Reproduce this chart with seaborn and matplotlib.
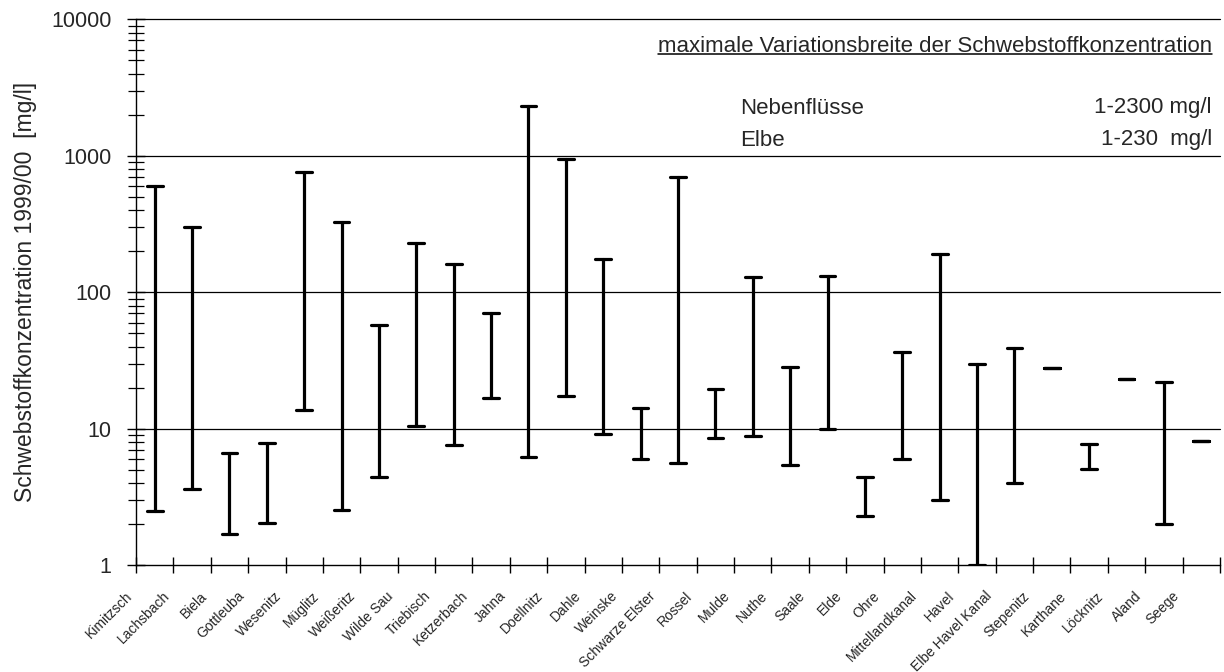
import numpy as np
import pandas as pd
import matplotlib
matplotlib.use("Agg")
import matplotlib.pyplot as plt
import matplotlib.transforms as mtransforms
from matplotlib.ticker import FixedLocator, NullFormatter, LogLocator
import seaborn as sns

# Rivers (tributaries of the Elbe) and the observed range of suspended matter
rivers = [
    "Kimitzsch", "Lachsbach", "Biela", "Gottleuba", "Wesenitz", "Müglitz",
    "Weißeritz", "Wilde Sau", "Triebisch", "Ketzerbach", "Jahna", "Doellnitz",
    "Dahle", "Weinske", "Schwarze Elster", "Rossel", "Mulde", "Nuthe", "Saale",
    "Elde", "Ohre", "Mittellandkanal", "Havel", "Elbe Havel Kanal",
    "Stepenitz", "Karthane", "Löcknitz", "Aland", "Seege",
]
conc_min = [2.5, 3.6, 1.7, 2.05, 13.7, 2.55, 4.4, 10.5, 7.6, 16.8, 6.2, 17.4,
            9.2, 6.0, 5.65, 8.6, 8.8, 5.4, 10.0, 2.3, 6.0, 3.0, 1.0, 4.0,
            27.7, 5.1, 23.0, 2.0, 8.2]
conc_max = [600, 300, 6.6, 7.9, 760, 325, 58, 230, 162, 70, 2300, 950,
            175, 14.1, 700, 19.5, 130, 28.5, 132, 4.4, 36.5, 190, 30, 39,
            27.7, 7.7, 23.0, 22, 8.2]

y_ticks = [1, 10, 100, 1000, 10000]
y_ticklabels = ["1", "10", "100", "1000", "10000"]

df = pd.DataFrame({
    "Fluss": rivers + rivers,
    "Konzentration": conc_min + conc_max,
})

sns.set_style("white")
plt.rcParams["font.family"] = ["Liberation Sans", "DejaVu Sans"]

fig = plt.figure(figsize=(12.24, 6.72), dpi=100)
ax = fig.add_axes([136 / 1224, 1 - 565.3 / 672, (1220 - 136) / 1224, (565.3 - 19.3) / 672])
ax.set_yscale("log")

sns.pointplot(
    data=df, x="Fluss", y="Konzentration", order=rivers,
    estimator="median", errorbar=("pi", 100), capsize=0.42,
    marker="", linestyle="none", color="black",
    err_kws={"linewidth": 2.3, "solid_capstyle": "round", "color": "black"},
    ax=ax,
)

n = len(rivers)
ax.set_xlim(-0.5, n - 0.5)
ax.set_ylim(1, 10000)

# horizontal grid at the decades
for v in y_ticks[1:]:
    ax.axhline(v, color="black", linewidth=0.9, zorder=0.5, clip_on=False)

for side in ("top", "right"):
    ax.spines[side].set_visible(False)
for side in ("left", "bottom"):
    ax.spines[side].set_color("black")
    ax.spines[side].set_linewidth(1.0)

# y axis: decades with crossing minor ticks
ax.yaxis.set_major_locator(FixedLocator(y_ticks))
ax.set_yticklabels(y_ticklabels)
ax.yaxis.set_minor_locator(LogLocator(base=10, subs=np.arange(2, 10)))
ax.yaxis.set_minor_formatter(NullFormatter())
ax.tick_params(axis="y", which="major", direction="inout", length=13, width=1,
               color="black", labelsize=15.5, pad=11, left=True)
ax.tick_params(axis="y", which="minor", direction="inout", length=11, width=0.9,
               color="black", left=True)

# x axis: ticks between categories, labels at category centres
ax.xaxis.set_major_locator(FixedLocator(np.arange(-0.5, n, 1.0)))
ax.xaxis.set_major_formatter(NullFormatter())
ax.xaxis.set_minor_locator(FixedLocator(np.arange(n)))
ax.set_xticklabels(rivers, minor=True)
ax.tick_params(axis="x", which="major", direction="inout", length=11, width=1,
               color="black", bottom=True)
ax.tick_params(axis="x", which="minor", length=0, pad=17, labelsize=10)
shift = mtransforms.ScaledTranslation(-0.2, 0, fig.dpi_scale_trans)
for lab in ax.get_xticklabels(minor=True):
    lab.set_rotation(45)
    lab.set_ha("right")
    lab.set_va("top")
    lab.set_transform(lab.get_transform() + shift)

ax.set_xlabel("")
ax.set_ylabel("Schwebstoffkonzentration 1999/00  [mg/l]", fontsize=16.5, labelpad=10)

# annotation block in the upper right
def fx(px):
    return (px - 136) / (1220 - 136)

def fy(py):
    return (565.3 - py) / (565.3 - 19.3)

title = ax.text(fx(1212), fy(46), "maximale Variationsbreite der Schwebstoffkonzentration",
                transform=ax.transAxes, ha="right", va="center", fontsize=16)
ax.text(fx(740), fy(108), "Nebenflüsse", transform=ax.transAxes,
        ha="left", va="center", fontsize=16)
ax.text(fx(1212), fy(108), "1-2300 mg/l", transform=ax.transAxes,
        ha="right", va="center", fontsize=16)
ax.text(fx(740), fy(140), "Elbe", transform=ax.transAxes,
        ha="left", va="center", fontsize=16)
ax.text(fx(1212), fy(140), "1-230  mg/l", transform=ax.transAxes,
        ha="right", va="center", fontsize=16)

# underline the heading
fig.canvas.draw()
bb = title.get_window_extent().transformed(ax.transAxes.inverted())
ax.plot([bb.x0, bb.x1], [fy(53.5), fy(53.5)], transform=ax.transAxes,
        color="black", linewidth=1.1, clip_on=False)

fig.savefig("out.png", dpi=100, facecolor="white")
